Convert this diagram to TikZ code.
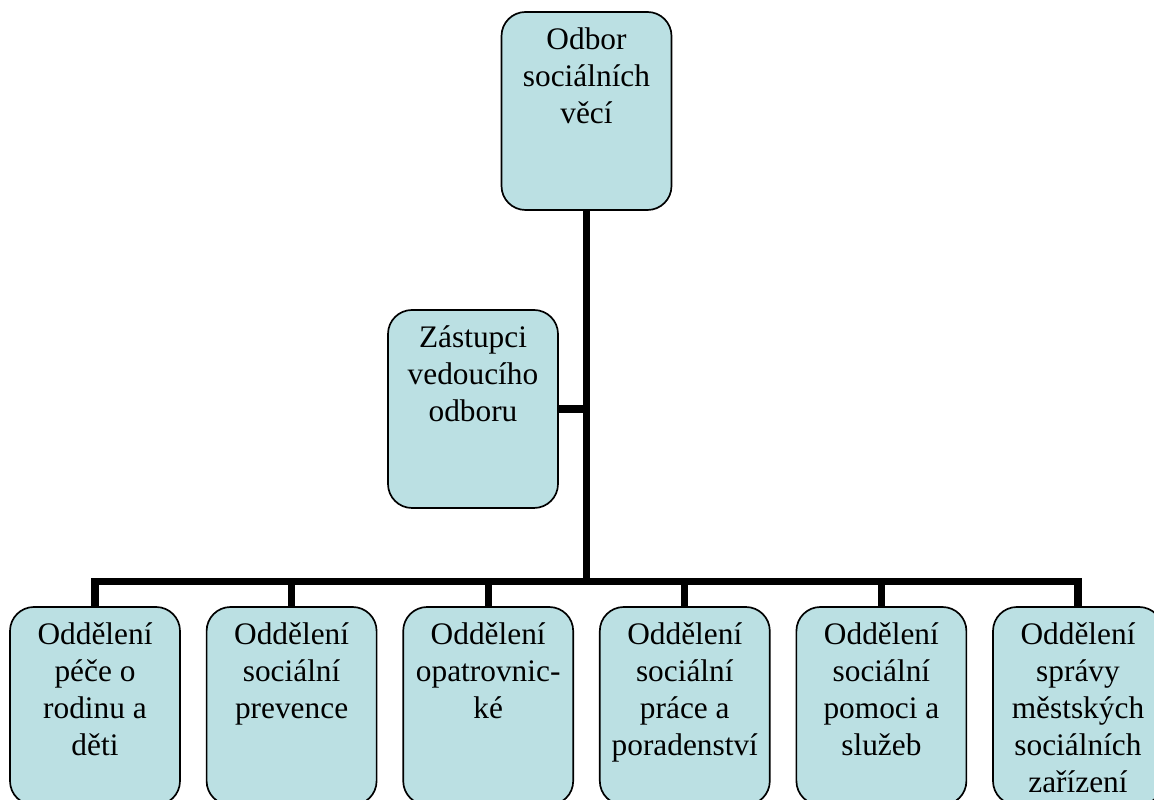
\documentclass[tikz,border=0pt]{standalone}
\usepackage{fontspec}
\setmainfont{Liberation Serif}
\usepackage{xcolor}
\usepackage{tikz}
\usetikzlibrary{positioning}

\definecolor{unitfill}{RGB}{187,224,227}

\begin{document}
\begin{tikzpicture}[
    node distance=0.665cm,
    unit/.style={draw, line width=1.2pt, fill=unitfill, rounded corners=0.6cm, anchor=north,
        text width=4.0cm, inner xsep=0.125cm, inner ysep=0pt, outer sep=0pt,
        text height=0.95cm, text depth=4.0cm, align=flush center,
        font=\fontsize{22.3}{26.3}\selectfont},
    link/.style={line width=5pt}
]
    \useasboundingbox (0,0) rectangle (28.85,20);
    \clip (0,0) rectangle (28.85,20);

    % Head of the department
    \node[unit] (head) at (14.6625,19.7) {Odbor\\sociálních\\věcí};
    % Deputies hang on the side of the spine
    \node[unit] (deputy) at (11.825,12.25) {Zástupci\\vedoucího\\odboru};

    % Row of sections
    \node[unit] (s1) at (2.375,4.825) {Oddělení\\péče o\\rodinu a\\děti};
    \node[unit, right=of s1] (s2) {Oddělení\\sociální\\prevence};
    \node[unit, right=of s2] (s3) {Oddělení\\opatrovnic-\\ké};
    \node[unit, right=of s3] (s4) {Oddělení\\sociální\\práce a\\poradenství};
    \node[unit, right=of s4] (s5) {Oddělení\\sociální\\pomoci a\\služeb};
    \node[unit, right=of s5] (s6) {Oddělení\\správy\\městských\\sociálních\\zařízení};

    \coordinate (bus) at (14.6625,5.4625);

    % Spine and side branch
    \draw[link] (head.south) -- (head.south |- bus);
    \draw[link] (deputy.east) -- (deputy.east -| head.south);
    % Bus with drops to each section
    \draw[link] (s1.north) -- (s1.north |- bus) -- (s6.north |- bus) -- (s6.north);
    \foreach \s in {s2,s3,s4,s5}
        \draw[link] (\s.north |- bus) -- (\s.north);
\end{tikzpicture}
\end{document}
